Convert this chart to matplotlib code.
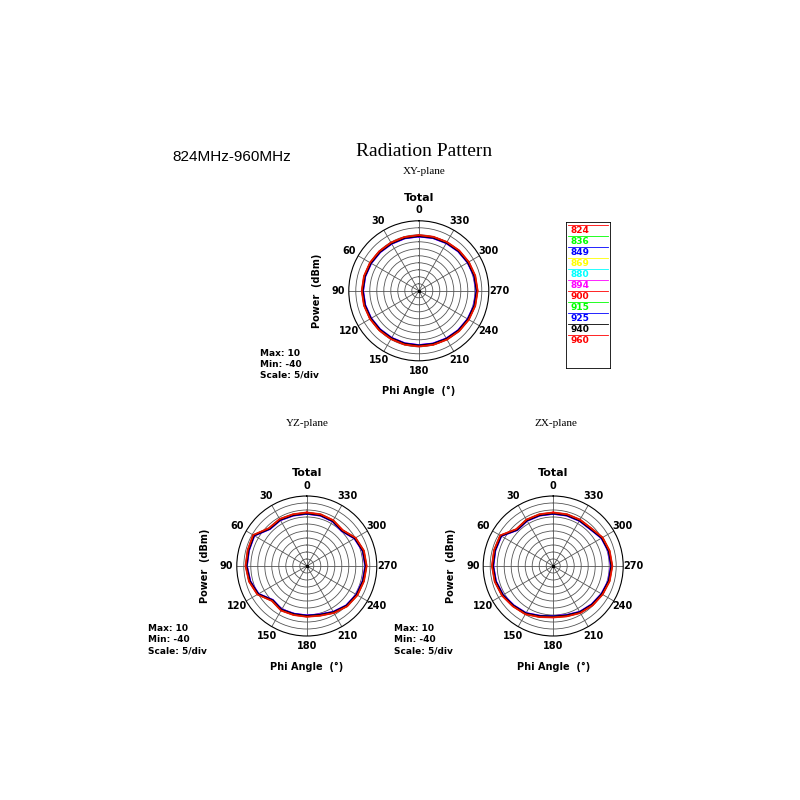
import numpy as np
import matplotlib.pyplot as plt

# frequencies (MHz) and line colours of the legend
freqs = ['824', '836', '849', '869', '880', '894', '900', '915', '925', '940', '960']
colors = ['red', 'lime', 'blue', 'yellow', 'cyan', 'magenta', 'red', 'lime', 'blue', 'black', 'red']
# small per-frequency level offsets (dB)
offsets = [1.0, 0.7, 0.4, 0.1, -0.2, -0.5, 0.8, 0.2, -0.4, -0.1, 0.5]

# angles (deg) every 15 degrees, closed
angles = [0, 15, 30, 45, 60, 75, 90, 105, 120, 135, 150, 165, 180,
          195, 210, 225, 240, 255, 270, 285, 300, 315, 330, 345, 360]

# base patterns, dBm
xy = [-1.0, -1.0, -1.0, -0.8, -0.5, -0.2, 0.0, -0.2, -0.5, -0.8, -1.0, -1.0, -1.0,
      -0.8, -0.5, 0.0, 0.5, 1.0, 1.3, 1.0, 0.5, 0.0, -0.5, -0.8, -1.0]
yz = [-2.5, -2.5, -2.0, -2.5, 3.5, 3.0, 3.0, 2.0, 0.0, -5.5, -4.0, -4.5, -4.5,
      -4.0, -2.0, 0.0, 1.0, 1.5, 2.0, 1.5, -0.5, -4.5, -3.0, -2.5, -2.5]
zx = [-2.5, -2.5, -2.5, -3.5, 3.0, 3.0, 3.0, 2.5, 1.5, 0.0, -1.0, -3.0, -4.0,
      -3.5, -2.0, -1.0, 0.0, 1.0, 1.5, 1.0, 0.0, -2.5, -2.5, -2.5, -2.5]

r_min, r_max = -40, 10

fig = plt.figure(figsize=(8, 8), dpi=100)
bold = dict(fontweight='bold', family='DejaVu Sans')


def polar_panel(left, bottom, size, pattern, info_x):
    ax = fig.add_axes([left, bottom, size, size], projection='polar')
    ax.set_theta_zero_location('N')
    ax.set_theta_direction(1)
    # radius measured from the -40 dBm centre
    ax.set_ylim(0, r_max - r_min)
    ax.set_yticks(np.arange(5, 50, 5))
    ax.set_yticklabels([])
    ax.set_xticks(np.radians(np.arange(0, 360, 30)))
    ax.set_xticklabels([str(a) for a in range(0, 360, 30)], fontsize=7, fontweight='bold')
    ax.tick_params(axis='x', pad=-3)
    ax.grid(color='#555555', linewidth=0.6)
    ax.spines['polar'].set_linewidth(0.8)
    th = np.radians(angles)
    for c, off in zip(colors, offsets):
        ax.plot(th, np.array(pattern) + off - r_min, color=c, linewidth=0.8)
    ax.plot([0], [0], 'k.', markersize=3)
    cx = left + size / 2
    fig.text(cx, bottom + size + 0.025, 'Total', ha='center', fontsize=8, **bold)
    fig.text(cx, bottom - 0.042, 'Phi Angle  (°)', ha='center', fontsize=7, **bold)
    fig.text(left - 0.04, bottom + size / 2, 'Power  (dBm)', rotation=90,
             ha='center', va='center', fontsize=7, **bold)
    fig.text(info_x, bottom + 0.015, 'Max: 10\nMin: -40\nScale: 5/div',
             ha='left', va='top', fontsize=6.5, linespacing=1.3, **bold)
    return ax


polar_panel(0.436, 0.549, 0.175, xy, 0.325)
polar_panel(0.296, 0.205, 0.175, yz, 0.185)
polar_panel(0.604, 0.205, 0.175, zx, 0.492)

fig.text(0.29, 0.804, '824MHz-960MHz', ha='center', va='center', fontsize=11,
         family='Liberation Sans')
fig.text(0.53, 0.81, 'Radiation Pattern', ha='center', va='center', fontsize=14,
         family='Liberation Serif')
fig.text(0.53, 0.786, 'XY-plane', ha='center', va='center', fontsize=8, family='Liberation Serif')
fig.text(0.384, 0.47, 'YZ-plane', ha='center', va='center', fontsize=8, family='Liberation Serif')
fig.text(0.695, 0.47, 'ZX-plane', ha='center', va='center', fontsize=8, family='Liberation Serif')

# legend box
lg = fig.add_axes([0.707, 0.54, 0.056, 0.183])
lg.set_xlim(0, 1)
lg.set_ylim(0, 1)
lg.set_xticks([])
lg.set_yticks([])
for s in lg.spines.values():
    s.set_linewidth(0.6)
for i, (f, c) in enumerate(zip(freqs, colors)):
    y = 0.94 - i * 0.075
    lg.plot([0.05, 0.95], [y + 0.035, y + 0.035], color=c, linewidth=0.6)
    lg.text(0.12, y, f, color=c, fontsize=6.5, fontweight='bold', va='center')

fig.savefig('out.png', dpi=100, facecolor='white')
